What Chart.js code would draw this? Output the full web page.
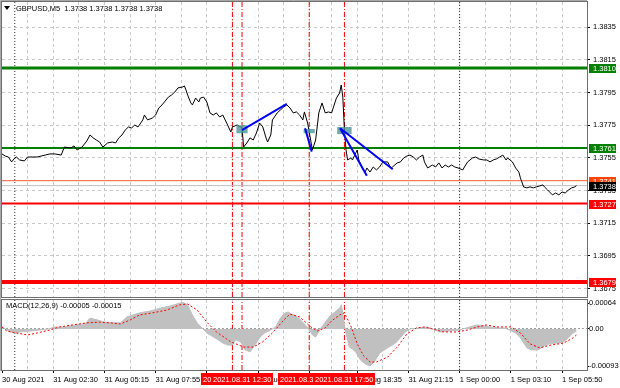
<!DOCTYPE html>
<html><head><meta charset="utf-8">
<script src="https://cdn.jsdelivr.net/npm/chart.js@4.4.0/dist/chart.umd.min.js"></script>
<style>
html,body{margin:0;padding:0;background:#fff;width:620px;height:388px;overflow:hidden}
#main{position:absolute;left:0;top:0}
#macd{position:absolute;left:0;top:298px}
</style></head><body>
<canvas id="main" width="620" height="298"></canvas>
<canvas id="macd" width="620" height="90"></canvas>
<script>
const FONT = "'Liberation Sans', Arial, sans-serif";
const FS = 7.5;

// ---- x axis: 5-minute bar index counted from the left edge ----
const X_MIN = 0, X_MAX = 365.6;
const gridIdx = [16,32,48,64,80,96,112,128,144,160,176,192,206,222,238,254,270,286,302,318,334,350];
const timeTickIdx = [0,32,64,96,128,160,192,222,254,286,318,350];
const timeTickLabels = ["30 Aug 2021","31 Aug 02:30","31 Aug 05:15","31 Aug 07:55","31 Aug 10:35","31 Aug 13:15","31 Aug 15:55","31 Aug 18:35","31 Aug 21:15","1 Sep 00:00","1 Sep 03:10","1 Sep 05:50"];
const daySepIdx = [8, 286];
const vlineIdx = [144, 150, 192, 214];
const vlineLabels = ["2021.08.31 12:20","2021.08.31 12:30","2021.08.31 16:00","2021.08.31 17:50"];

// ---- price panel ----
const PRICE_MIN = 1.36698, PRICE_MAX = 1.38504;
const priceTicks = [1.3835,1.3815,1.3795,1.3775,1.3755,1.3735,1.3715,1.3695,1.3675];
const symbolText = "GBPUSD,M5  1.3738 1.3738 1.3738 1.3738";

const priceIdx = [0,2,4,6,8,9,11,14,16,19,22,27,30,33,37,39,43,45,47,50,53,55,57,59,61,63,66,69,71,73,75,77,79,81,83,85,88,89,91,94,96,98,100,102,104,106,108,110,113,114,115,116,118,119,121,123,124,126,128,130,132,134,136,138,141,143,144,147,149,150,151,153,155,157,159,161,163,165,166,168,169,172,174,176,178,180,182,184,186,188,189,191,194,196,198,200,202,204,206,208,209,211,212,213,214,215,216,218,219,222,223,225,227,228,230,232,234,236,238,241,243,244,247,249,251,253,255,257,259,261,263,264,266,269,271,273,275,277,279,281,283,285,288,289,291,294,296,298,301,303,305,307,309,311,313,315,316,319,321,323,324,326,328,330,332,334,336,338,339,341,344,346,348,350,352,354,356,358,359];
const priceVal = [1.37574,1.37561,1.37555,1.37525,1.37549,1.37555,1.37537,1.37531,1.37555,1.37555,1.37555,1.37567,1.37574,1.37574,1.37567,1.37616,1.37610,1.37623,1.37598,1.37616,1.37653,1.37690,1.37672,1.37659,1.37647,1.37616,1.37641,1.37647,1.37641,1.37672,1.37690,1.37720,1.37739,1.37733,1.37751,1.37739,1.37782,1.37812,1.37782,1.37794,1.37812,1.37855,1.37874,1.37898,1.37922,1.37935,1.37953,1.37978,1.37984,1.37990,1.37965,1.37935,1.37886,1.37874,1.37916,1.37892,1.37916,1.37922,1.37892,1.37825,1.37812,1.37825,1.37800,1.37812,1.37751,1.37708,1.37739,1.37751,1.37739,1.37733,1.37616,1.37641,1.37672,1.37659,1.37702,1.37763,1.37739,1.37672,1.37647,1.37690,1.37782,1.37825,1.37843,1.37861,1.37874,1.37855,1.37825,1.37831,1.37812,1.37782,1.37831,1.37763,1.37598,1.37659,1.37825,1.37886,1.37825,1.37831,1.37825,1.37886,1.37916,1.37947,1.37996,1.37922,1.37720,1.37598,1.37537,1.37549,1.37537,1.37598,1.37537,1.37488,1.37463,1.37488,1.37463,1.37494,1.37476,1.37494,1.37525,1.37525,1.37488,1.37494,1.37519,1.37525,1.37549,1.37561,1.37567,1.37555,1.37537,1.37555,1.37567,1.37525,1.37488,1.37506,1.37494,1.37519,1.37488,1.37506,1.37494,1.37506,1.37494,1.37488,1.37476,1.37494,1.37525,1.37549,1.37555,1.37543,1.37537,1.37537,1.37525,1.37537,1.37543,1.37555,1.37567,1.37537,1.37549,1.37525,1.37488,1.37463,1.37427,1.37372,1.37366,1.37372,1.37366,1.37372,1.37378,1.37384,1.37372,1.37353,1.37323,1.37335,1.37323,1.37341,1.37335,1.37353,1.37366,1.37372,1.37380];

const levelValues = [1.3810, 1.3761, 1.3741, 1.3738, 1.3727, 1.3679];
const levelColors = ['#008000','#008000','#ff5a36','#c0c0c0','#ff0000','#ff0000'];
const levelWidths = [3, 2, 1, 1, 2, 4];
const levelBoxColors = ['#008000','#008000','#ff4500','#000000','#ff0000','#ff0000'];

const trendX0 = [150, 189.4, 211.3, 211.3];
const trendY0 = [1.3772, 1.37731, 1.37731, 1.37731];
const trendX1 = [178, 193.6, 228, 244.2];
const trendY1 = [1.3788, 1.37588, 1.37441, 1.3748];

const boxX0 = [146.5, 188.5, 209.5];
const boxX1 = [153.5, 195.5, 218.5];
const boxLo = [1.3770, 1.3770, 1.37696];
const boxHi = [1.3775, 1.37727, 1.37739];

// ---- MACD panel ----
const MACD_MIN = -0.00102, MACD_MAX = 0.00072;
const macdTicks = [0.00064, 0, -0.00093];
const macdTickLabels = ['0.00064', '0.00', '-0.00093'];
const macdText = "MACD(12,26,9) -0.00005 -0.00015";
const histIdx = [0,2,5,8,11,18,24,29,33,39,46,52,55,60,64,74,78,86,93,99,105,110,113,116,119,122,125,128,133,138,141,144,146,149,152,155,158,161,164,168,171,174,177,179,181,184,188,190,192,194,196,199,202,205,208,211,212,213,214,215,217,219,221,224,227,230,233,236,241,246,249,252,255,261,266,271,274,280,286,292,297,302,305,311,314,317,321,324,328,331,335,339,342,347,351,354,357,359];
const histVal = [0.00005,0,-0.000075,-0.0001,-0.000075,-0.00005,-0.000025,0,0.00005,0.00005,0.0001,0.000125,0.00027,0.00022,0.00017,0.00015,0.0003,0.0004,0.00045,0.00052,0.00057,0.00063,0.00066,0.0006,0.00035,0.00015,0.000025,-0.0001,-0.00022,-0.00035,-0.0004,-0.0004,-0.00027,-0.00032,-0.00052,-0.00057,-0.0004,-0.00022,-0.0001,-0.000025,0.00005,0.00027,0.0004,0.00042,0.00037,0.00032,0.00017,0.000075,0,-0.00015,-0.0002,0,0.00017,0.00032,0.00042,0.00052,0.0006,0.0004,0.0001,-0.0001,-0.00045,-0.0005,-0.00057,-0.00077,-0.00087,-0.00092,-0.0008,-0.0006,-0.00047,-0.00035,-0.00022,-0.000075,0,0.000025,0.00005,-0.000025,-0.000075,-0.00005,-0.000025,0.00005,0.0001,0.000075,0.00005,0.000025,0.000025,-0.000025,-0.0001,-0.00022,-0.00047,-0.00052,-0.00052,-0.00042,-0.00037,-0.00035,-0.00032,-0.00022,-0.0001,-0.00005];
const sigIdx = [0,3,9,16,22,30,36,44,53,61,68,74,80,86,94,103,111,116,122,128,134,143,151,157,163,169,176,180,186,193,197,202,206,211,214,218,222,226,230,234,241,247,253,259,264,269,276,284,291,297,303,309,318,324,330,336,343,351,357,359];
const sigVal = [0.00005,-0.00005,-0.0001,-0.00015,-0.0001,-0.000025,0.00005,0.0001,0.00015,0.00017,0.00015,0.000125,0.00022,0.00035,0.0004,0.00047,0.0006,0.00062,0.00047,0.00017,-0.000075,-0.00032,-0.00045,-0.00045,-0.00032,-0.0001,0.00022,0.00037,0.0003,0.00005,-0.00005,0.000025,0.0002,0.00035,0.0004,0.000075,-0.00037,-0.00067,-0.00082,-0.00082,-0.0007,-0.00045,-0.000125,0.000025,0.00005,0,-0.000075,-0.000075,-0.000025,0.00005,0.0001,0.00005,0.00005,-0.0001,-0.00037,-0.00047,-0.0004,-0.00035,-0.00022,-0.00015];

// ---- helpers ----
const pts = (xs, ys) => xs.map((x, i) => ({x, y: ys[i]}));
const lineDs = (data, color, width, order, extra) => Object.assign({
  type: 'line', data, borderColor: color, borderWidth: width, pointRadius: 0, fill: false, order, tension: 0
}, extra || {});
const vlines = (lo, hi) => [
  ...daySepIdx.map(x => lineDs([{x, y: lo}, {x, y: hi}], '#303030', 1, 6, {borderDash: [1, 2]})),
  ...vlineIdx.map(x => lineDs([{x, y: lo}, {x, y: hi}], '#ff0000', 1, 5, {borderDash: [5, 2, 1, 2]}))
];
const fontObj = {family: FONT, size: FS};

// ---- main chart datasets ----
const mainSets = [];
levelValues.forEach((v, i) => mainSets.push(lineDs([{x: X_MIN, y: v}, {x: X_MAX, y: v}], levelColors[i], levelWidths[i], 4)));
mainSets.push(...vlines(PRICE_MIN, PRICE_MAX));
mainSets.push(lineDs(pts(priceIdx, priceVal), '#000000', 1, 2));
boxX0.forEach((x0, i) => mainSets.push(lineDs(
  [{x: x0, y: boxLo[i]}, {x: boxX1[i], y: boxLo[i]}, {x: boxX1[i], y: boxHi[i]}, {x: x0, y: boxHi[i]}, {x: x0, y: boxLo[i]}],
  'rgba(0,0,0,0)', 0, 1, {fill: 'shape', backgroundColor: 'rgba(70,148,150,0.78)'})));
trendX0.forEach((x0, i) => mainSets.push(lineDs([{x: x0, y: trendY0[i]}, {x: trendX1[i], y: trendY1[i]}], '#0000ff', 2, 0)));

const mainDecor = {
  id: 'mainDecor',
  afterDraw(chart) {
    const {ctx, chartArea: ca, scales: {y}} = chart;
    ctx.save();
    ctx.lineWidth = 1;
    ctx.strokeStyle = '#a8a8a8';
    ctx.beginPath(); ctx.moveTo(0.5, ca.bottom + 1); ctx.lineTo(0.5, 0.5); ctx.lineTo(ca.right, 0.5); ctx.stroke();
    ctx.strokeStyle = '#6e6e6e';
    ctx.strokeRect(ca.left - 0.5, ca.top - 0.5, ca.right - ca.left + 1, ca.bottom - ca.top + 1);
    ctx.font = `${FS}px ${FONT}`;
    ctx.textBaseline = 'middle'; ctx.textAlign = 'left';
    levelValues.forEach((v, i) => {
      const py = Math.round(y.getPixelForValue(v));
      ctx.fillStyle = levelBoxColors[i];
      ctx.fillRect(ca.right + 2, py - 4, 27, 9);
      ctx.fillStyle = '#ffffff';
      ctx.fillText(v.toFixed(4), ca.right + 6, py + 0.5);
    });
    // header
    ctx.fillStyle = '#000';
    ctx.beginPath(); ctx.moveTo(4, 6); ctx.lineTo(10, 6); ctx.lineTo(7, 10); ctx.closePath(); ctx.fill();
    ctx.fillText(symbolText, 16, 8.5);
    ctx.restore();
  }
};

new Chart(document.getElementById('main'), {
  type: 'line',
  data: {datasets: mainSets},
  options: {
    responsive: false, animation: false, devicePixelRatio: 1,
    layout: {padding: {left: 2, top: 2, right: 0, bottom: 1}},
    plugins: {legend: {display: false}, tooltip: {enabled: false}},
    scales: {
      x: {
        type: 'linear', min: X_MIN, max: X_MAX,
        afterBuildTicks: s => { s.ticks = gridIdx.map(v => ({value: v})); },
        ticks: {display: false},
        grid: {color: '#c8c8c8', drawTicks: false},
        border: {display: false, dash: [3, 3]},
        afterFit: s => { s.height = 0; s.paddingLeft = 0; s.paddingRight = 0; }
      },
      y: {
        type: 'linear', position: 'right', min: PRICE_MIN, max: PRICE_MAX,
        afterBuildTicks: s => { s.ticks = priceTicks.map(v => ({value: v})); },
        ticks: {font: fontObj, color: '#000', padding: 3, autoSkip: false, callback: v => Number(v).toFixed(4)},
        grid: {color: '#c8c8c8', tickColor: '#000', tickLength: 3, tickBorderDash: [1, 0]},
        border: {display: false, dash: [3, 3]},
        afterFit: s => { s.width = 33; s.paddingTop = 0; s.paddingBottom = 0; }
      }
    }
  },
  plugins: [mainDecor]
});

// ---- MACD chart ----
const macdSets = [
  lineDs(pts(histIdx, histVal), '#c0c0c0', 1, 3, {fill: 'origin', backgroundColor: '#c0c0c0'}),
  lineDs(pts(sigIdx, sigVal), '#ff0000', 1, 0, {borderDash: [2, 2]}),
  ...vlines(MACD_MIN, MACD_MAX)
];
const macdXTicks = [0, ...gridIdx];

const macdDecor = {
  id: 'macdDecor',
  afterDraw(chart) {
    const {ctx, chartArea: ca, scales: {x}} = chart;
    ctx.save();
    ctx.lineWidth = 1;
    ctx.strokeStyle = '#a8a8a8';
    ctx.beginPath(); ctx.moveTo(0.5, 0); ctx.lineTo(0.5, ca.bottom + 1); ctx.stroke();
    ctx.strokeStyle = '#6e6e6e';
    ctx.strokeRect(ca.left - 0.5, ca.top - 0.5, ca.right - ca.left + 1, ca.bottom - ca.top + 1);
    ctx.font = `${FS}px ${FONT}`;
    ctx.textBaseline = 'middle'; ctx.textAlign = 'left';
    ctx.fillStyle = '#000';
    ctx.fillText(macdText, 6, 7.5);
    vlineIdx.forEach((v, i) => {
      const px = x.getPixelForValue(v);
      const w = ctx.measureText(vlineLabels[i]).width + 4;
      ctx.fillStyle = '#ff0000';
      ctx.fillRect(Math.round(px - w / 2), ca.bottom + 3, Math.round(w), 12);
      ctx.fillStyle = '#ffffff';
      ctx.fillText(vlineLabels[i], Math.round(px - w / 2) + 2, ca.bottom + 9.5);
    });
    ctx.restore();
  }
};

new Chart(document.getElementById('macd'), {
  type: 'line',
  data: {datasets: macdSets},
  options: {
    responsive: false, animation: false, devicePixelRatio: 1,
    layout: {padding: {left: 2, top: 2, right: 0, bottom: 0}},
    plugins: {legend: {display: false}, tooltip: {enabled: false}},
    scales: {
      x: {
        type: 'linear', min: X_MIN, max: X_MAX,
        afterBuildTicks: s => { s.ticks = macdXTicks.map(v => ({value: v})); },
        ticks: {
          font: fontObj, color: '#000', padding: 2, align: 'start', autoSkip: false, maxRotation: 0, minRotation: 0,
          callback: v => { const k = timeTickIdx.indexOf(Number(v)); return k >= 0 ? timeTickLabels[k] : ''; }
        },
        grid: {
          color: c => (c.tick && c.tick.value === 0) ? 'rgba(0,0,0,0)' : '#c8c8c8',
          tickColor: c => (c.tick && timeTickIdx.includes(c.tick.value)) ? '#000' : 'rgba(0,0,0,0)',
          tickLength: 3, tickBorderDash: [1, 0]
        },
        border: {display: false, dash: [3, 3]},
        afterFit: s => { s.height = 18; s.paddingLeft = 0; s.paddingRight = 0; }
      },
      y: {
        type: 'linear', position: 'right', min: MACD_MIN, max: MACD_MAX,
        afterBuildTicks: s => { s.ticks = macdTicks.map(v => ({value: v})); },
        ticks: {
          font: fontObj, color: '#000', padding: 0, autoSkip: false,
          callback: (v, i) => macdTickLabels[i]
        },
        grid: {
          color: c => (c.tick && c.tick.value === 0) ? '#a0a0a0' : 'rgba(0,0,0,0)',
          tickColor: '#000', tickLength: 2, tickBorderDash: [1, 0]
        },
        border: {display: false, dash: [2, 2]},
        afterFit: s => { s.width = 33; s.paddingTop = 0; s.paddingBottom = 0; }
      }
    }
  },
  plugins: [macdDecor]
});
</script>
</body></html>
